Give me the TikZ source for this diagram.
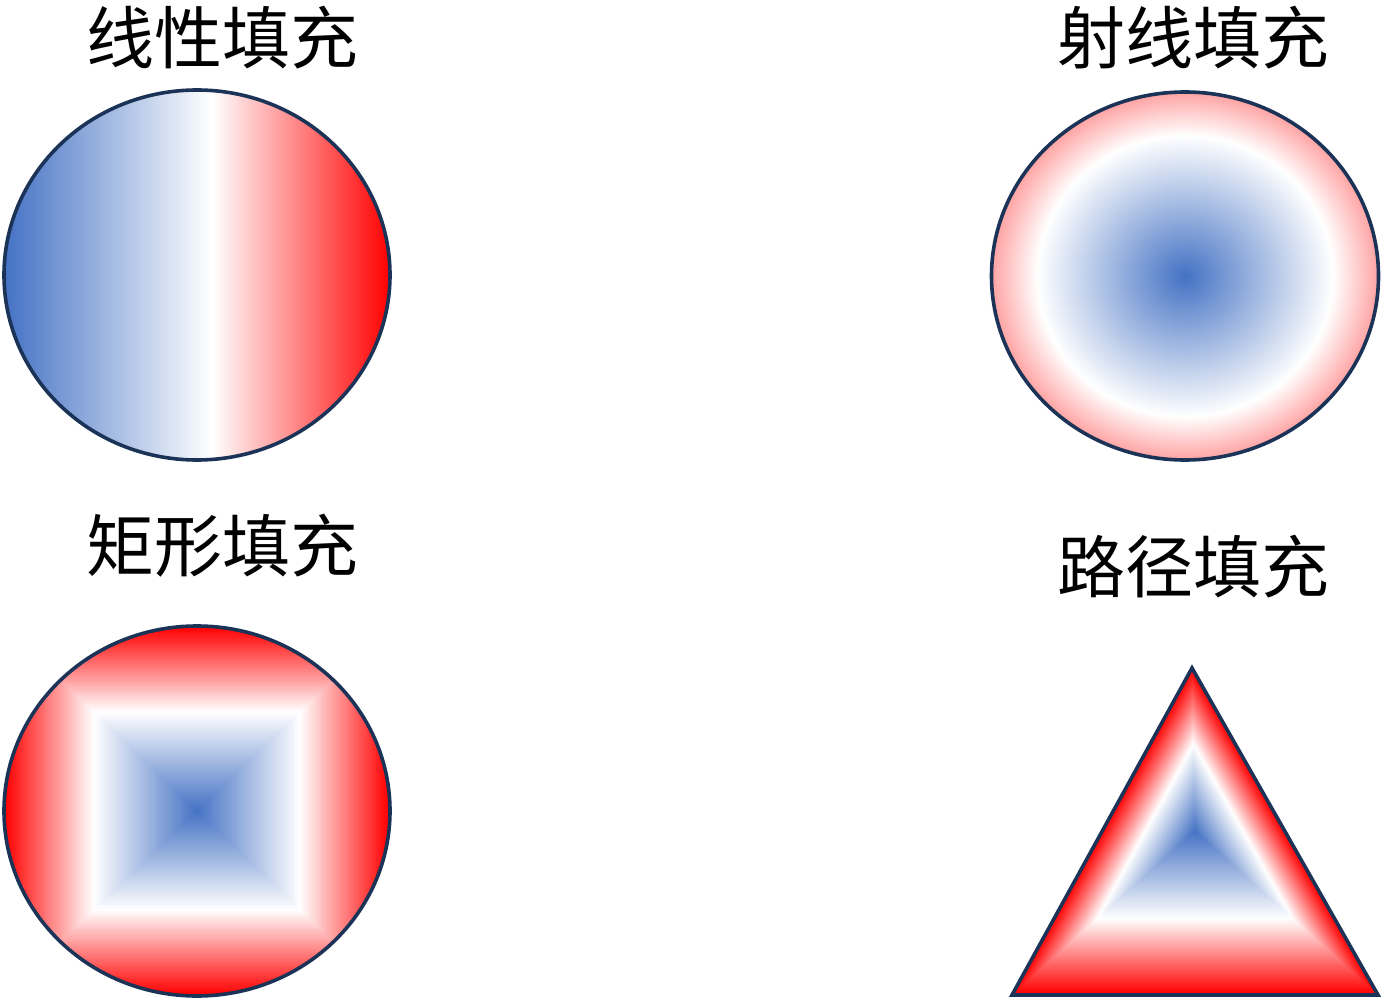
\documentclass[tikz,border=0pt]{standalone}
\usepackage{fontspec}
\newfontfamily\cjk{Noto Sans CJK SC}
\usetikzlibrary{calc}

\definecolor{fillblue}{HTML}{4472C4}
\definecolor{fillred}{HTML}{FF0000}
\definecolor{edgeblue}{HTML}{1C3358}

% white stop at 54% of the way from blue to red
\pgfdeclarehorizontalshading{linfill}{100bp}{color(0bp)=(fillblue); color(25bp)=(fillblue); color(52bp)=(white); color(75bp)=(fillred); color(100bp)=(fillred)}
\pgfdeclareradialshading{radfill}{\pgfpoint{0bp}{0bp}}{color(0bp)=(fillblue); color(19.1bp)=(white); color(35.4bp)=(fillred); color(50bp)=(fillred)}

\begin{document}
\begin{tikzpicture}[x=1pt, y=-1pt]

\tikzset{
  title/.style={font=\cjk\fontsize{68}{80}\selectfont, inner sep=0pt},
  outline/.style={draw=edgeblue, line width=3.6},
  band/.style={fill=bandcol, draw=none}
}

\useasboundingbox (0,0) rectangle (1385,1003);

% ==========================
% Centres of the shapes
% ==========================
\coordinate (linC) at (197,275);
\coordinate (radC) at (1185,276);
\coordinate (rectC) at (197,811);
\coordinate (triC) at (1195,831.5);
\coordinate (triA) at (1192,668);
\coordinate (triB) at (1012,995);
\coordinate (triD) at (1378,995);

% ==========================
% Top left: linear fill
% ==========================
\path[shade, shading=linfill, outline] (linC) ellipse [x radius=193, y radius=185];
\node[title] (linT) at (222,38) {线性填充};

% ==========================
% Top right: radial fill
% ==========================
\path[shade, shading=radfill, outline] (radC) ellipse [x radius=193.5, y radius=184];
\node[title] (radT) at (1193,38) {射线填充};

% ==========================
% Bottom left: rectangular fill (nested boxes)
% ==========================
\begin{scope}
  \clip (rectC) ellipse [x radius=193, y radius=185];
  \foreach \i in {100,99,...,1}{
    \pgfmathsetmacro\lev{\i/100}
    \ifdim\lev pt<0.54pt
      \pgfmathsetmacro\mixp{100*(1-\lev/0.54)}
      \colorlet{bandcol}{fillblue!\mixp!white}
    \else
      \pgfmathsetmacro\mixp{100*(\lev-0.54)/0.46}
      \colorlet{bandcol}{fillred!\mixp!white}
    \fi
    \path[band] ($(rectC)+(-\lev*193,-\lev*185)$) rectangle ($(rectC)+(\lev*193,\lev*185)$);
  }
\end{scope}
\draw[outline] (rectC) ellipse [x radius=193, y radius=185];
\node[title] (rectT) at (222,546) {矩形填充};

% ==========================
% Bottom right: path fill (nested triangles)
% ==========================
\foreach \i in {100,99,...,1}{
  \pgfmathsetmacro\lev{\i/100}
  \ifdim\lev pt<0.54pt
    \pgfmathsetmacro\mixp{100*(1-\lev/0.54)}
    \colorlet{bandcol}{fillblue!\mixp!white}
  \else
    \pgfmathsetmacro\mixp{100*(\lev-0.54)/0.46}
    \colorlet{bandcol}{fillred!\mixp!white}
  \fi
  \path[band] ($(triC)!\lev!(triA)$) -- ($(triC)!\lev!(triB)$) -- ($(triC)!\lev!(triD)$) -- cycle;
}
\draw[outline, line join=miter] (triA) -- (triB) -- (triD) -- cycle;
\node[title] (triT) at (1193,567) {路径填充};

\end{tikzpicture}
\end{document}
